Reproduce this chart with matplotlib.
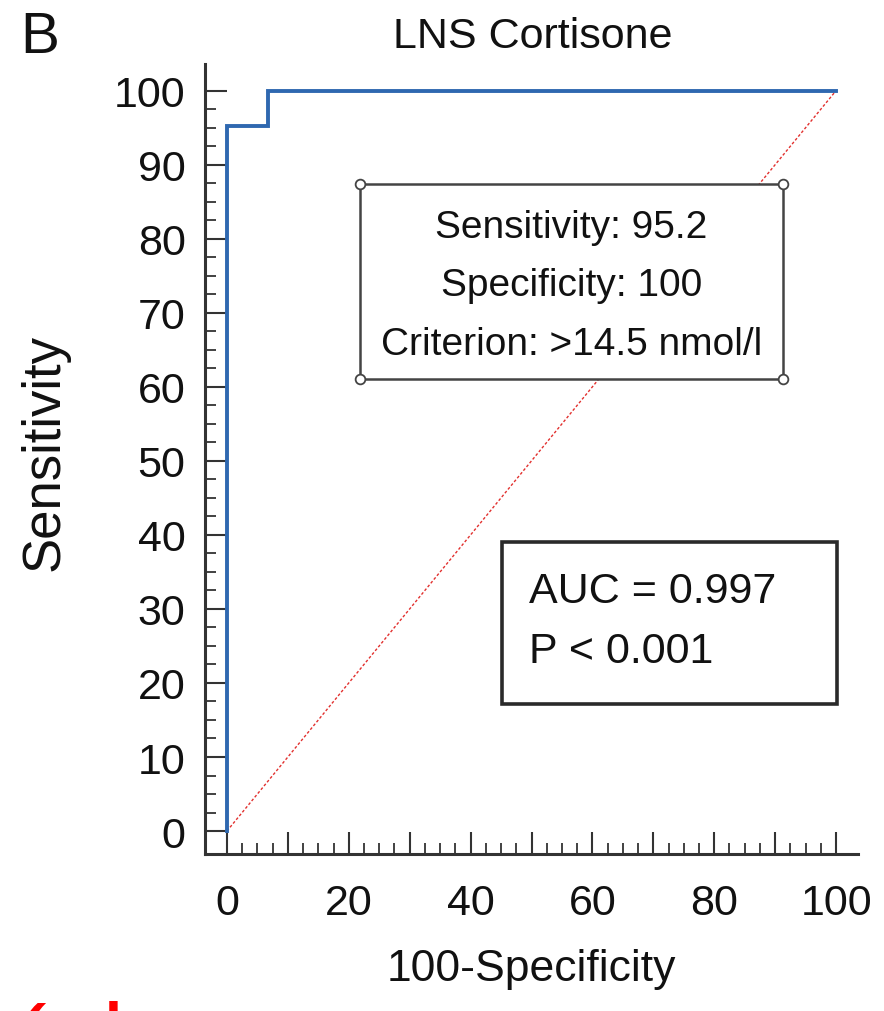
import numpy as np
import matplotlib
matplotlib.use("Agg")
import matplotlib.pyplot as plt
from matplotlib.ticker import FixedLocator, FuncFormatter
from matplotlib.patches import Rectangle

plt.rcParams['font.family'] = ['Liberation Sans', 'DejaVu Sans']

# === Datos de la curva ROC (100-especificidad, sensibilidad) ===
fpr = [0, 0, 6.67, 6.67, 100]
tpr = [0, 95.2, 95.2, 100, 100]
ref_x = [0, 100]
ref_y = [0, 100]

titulo = "LNS Cortisone"
lineas_criterio = ["Sensitivity: 95.2", "Specificity: 100", "Criterion: >14.5 nmol/l"]
lineas_auc = ["AUC = 0.997", "P < 0.001"]

W, H = 884, 1012
fig = plt.figure(figsize=(W/100, H/100), dpi=100)
ax = fig.add_axes([205/W, 1 - 855/H, (858-205)/W, (855-65)/H])

ax.plot(fpr, tpr, color="#2f68b0", lw=2.8, solid_joinstyle="miter", zorder=3)
ax.plot(ref_x, ref_y, color="#e2302e", lw=1.0, ls=(0, (2, 1.5)), zorder=2)

ax.set_xlim(-3.6, 103.6)
ax.set_ylim(-3.1, 103.6)
for s in ["top", "right"]:
    ax.spines[s].set_visible(False)
for s in ["left", "bottom"]:
    ax.spines[s].set_linewidth(2.2)
    ax.spines[s].set_color("#333333")

# marcas: mayores cada 10, menores cada 2.5, solo entre 0 y 100
mayores = np.arange(0, 101, 10)
menores = [v for v in np.arange(0, 100.1, 2.5) if v % 10 != 0]
ax.xaxis.set_major_locator(FixedLocator(mayores))
ax.yaxis.set_major_locator(FixedLocator(mayores))
ax.xaxis.set_minor_locator(FixedLocator(menores))
ax.yaxis.set_minor_locator(FixedLocator(menores))
ax.xaxis.set_major_formatter(FuncFormatter(lambda v, p: f"{v:.0f}" if round(v) % 20 == 0 else ""))
ax.yaxis.set_major_formatter(FuncFormatter(lambda v, p: f"{v:.0f}"))
ax.tick_params(which="major", direction="in", length=15.5, width=1.5, color="#333333",
               labelsize=31, labelcolor="#111111")
ax.tick_params(which="minor", direction="in", length=8, width=1.3, color="#333333")
ax.tick_params(axis="x", which="major", pad=21)
ax.tick_params(axis="y", which="major", pad=14)

# === Etiquetas ===
ax.set_xlabel("100-Specificity", fontsize=32, color="#111111", labelpad=18)
fig.text(45/W, 1 - 453/H, "Sensitivity", rotation=90, fontsize=38, color="#111111",
         ha="center", va="center")
fig.text(533/W, 1 - 37/H, titulo, fontsize=31, color="#111111", ha="center", va="center")
fig.text(40/W, 1 - 38/H, "B", fontsize=42, color="#111111", ha="center", va="center")

# === Cuadro del criterio ===
bx0, bx1, by0, by1 = 21.8, 91.3, 61.1, 87.4
ax.add_patch(Rectangle((bx0, by0), bx1 - bx0, by1 - by0, fill=True, facecolor="white",
                       edgecolor="#444444", lw=1.8, zorder=4))
ax.plot([bx0, bx1, bx0, bx1], [by0, by0, by1, by1], ls="none", marker="o", ms=7,
        mfc="white", mec="#444444", mew=1.3, zorder=5, clip_on=False)
for i, t in enumerate(lineas_criterio):
    ax.text((bx0 + bx1) / 2, 81.6 - i * 7.9, t, fontsize=28, color="#111111",
            ha="center", va="center", zorder=6)

# === Cuadro del AUC ===
cx0, cx1, cy0, cy1 = 45.2, 100.2, 17.2, 39.1
ax.add_patch(Rectangle((cx0, cy0), cx1 - cx0, cy1 - cy0, fill=True, facecolor="white",
                       edgecolor="#2a2a2a", lw=2.6, zorder=4, clip_on=False))
for i, t in enumerate(lineas_auc):
    ax.text(49.6, 32.4 - i * 8.1, t, fontsize=31, color="#111111",
            ha="left", va="center", zorder=6)

# === Texto rojo recortado abajo (en el original solo se ve la parte superior) ===
fig.text(20/W, -48/H, "(", fontsize=44, color="red", fontweight="bold", style="italic",
         ha="left", va="bottom")
fig.text(105/W, -46/H, "l", fontsize=44, color="red", fontweight="bold",
         ha="left", va="bottom")

fig.savefig("out.png", dpi=100)
